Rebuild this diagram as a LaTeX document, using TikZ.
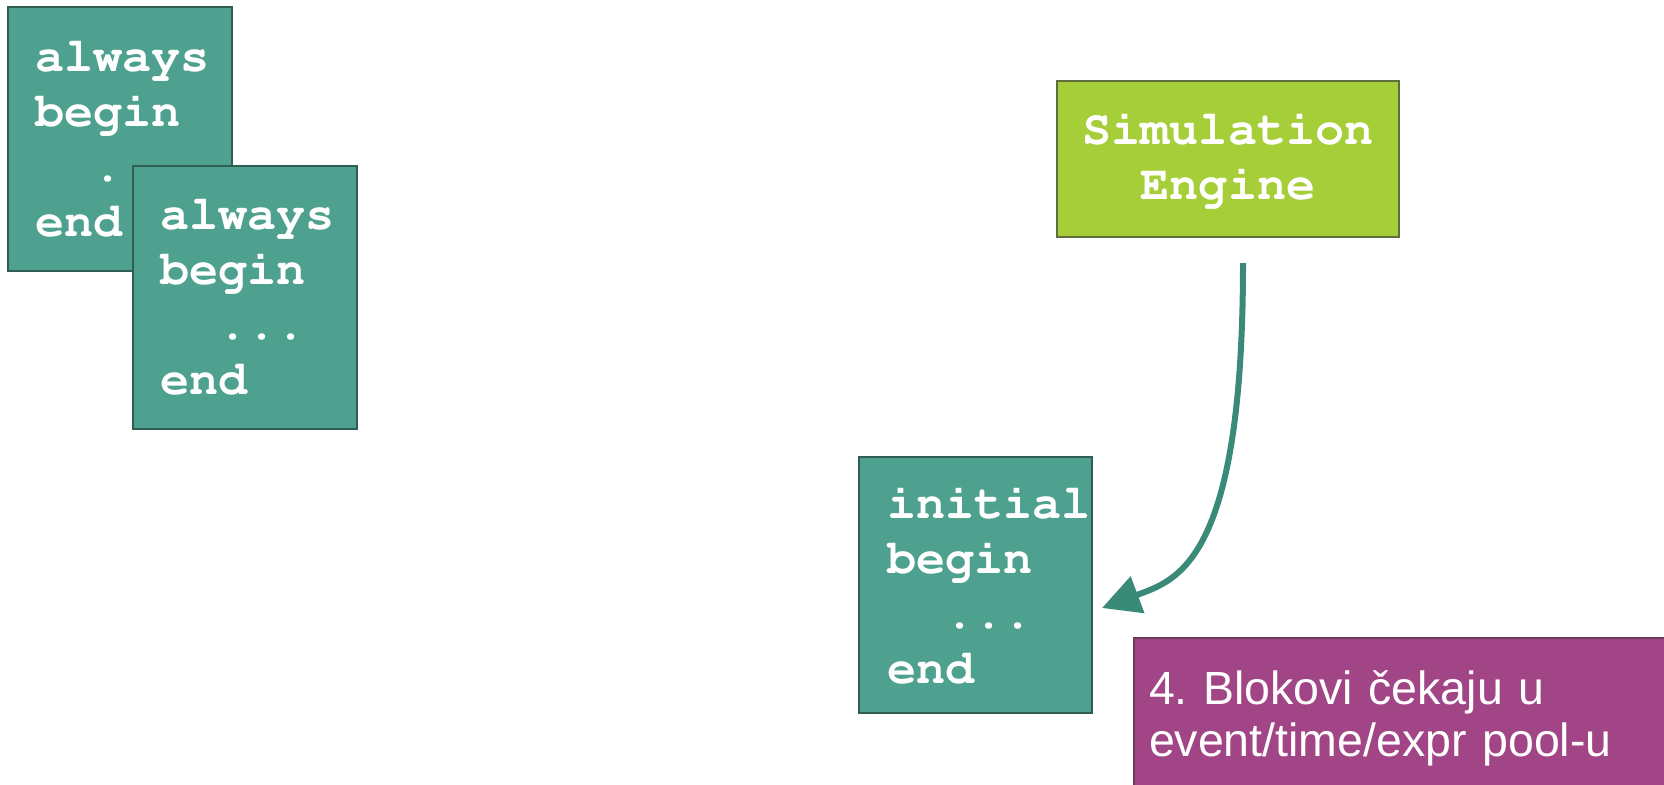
\documentclass[tikz,border=0pt]{standalone}
\usepackage[T1]{fontenc}
\usepackage{fontspec}
\setmainfont{Liberation Sans}
\setmonofont{Liberation Mono}
\usetikzlibrary{arrows.meta}
\newcommand\courbold{\fontencoding{T1}\fontfamily{pcr}\fontseries{b}\selectfont}
\definecolor{tealfill}{HTML}{4EA08F}
\definecolor{tealborder}{HTML}{2F5E55}
\definecolor{greenfill}{HTML}{A6CE39}
\definecolor{greenborder}{HTML}{5E6E3C}
\definecolor{purplefill}{HTML}{A24586}
\definecolor{purpleborder}{HTML}{6E3A5E}
\definecolor{arrowteal}{HTML}{3A8A78}
\begin{document}
\frenchspacing
\begin{tikzpicture}[x=1pt,y=-1pt,
  codefont/.style={font=\courbold\fontsize{48.5}{55}\selectfont},
  codebox/.style={codefont, draw=tealborder, line width=1.5pt, fill=tealfill, text=white,
    align=left, anchor=north west, inner ysep=0pt, outer sep=0pt},
  enginebox/.style={codefont, draw=greenborder, line width=1.5pt, fill=greenfill, text=white,
    align=center, inner sep=0pt, outer sep=0pt, minimum width=342pt, minimum height=156pt},
  notebox/.style={font=\fontsize{46.5}{52}\selectfont, draw=purpleborder, line width=1.5pt,
    fill=purplefill, text=white, align=left, anchor=north west, text width=600pt,
    inner xsep=15pt, inner ysep=33pt, outer sep=0pt},
  flowarrow/.style={draw=arrowteal, line width=6pt, -{Triangle[length=38pt,width=38pt]}}
]
\useasboundingbox (0,0) rectangle (1664,784);
\clip (0,0) rectangle (1664,784);
\fill[white] (0,0) rectangle (1664,784);

\node[codebox, text width=170pt, inner xsep=27pt, minimum height=264pt] (a1) at (8,7)
  {always\\begin\\\hphantom{aa}...\\end};
\node[codebox, text width=170pt, inner xsep=27pt, minimum height=263pt] (a2) at (133,166)
  {always\\begin\\\hphantom{aa}...\\end};

\node[enginebox] (eng) at (1228,159) {Simulation\\Engine};

\node[codebox, text width=177pt, inner xsep=28pt, minimum height=256pt] (init) at (859,457)
  {initial\\begin\\\hphantom{aa}...\\end};

\node[notebox] (note) at (1134,638) {4. Blokovi čekaju u\\event/time/expr pool-u};

\draw[flowarrow] ([xshift=15pt,yshift=-26pt]eng.south)
  .. controls +(0,300) and +(75,-28) .. ([xshift=10pt,yshift=-23pt]init.east);
\end{tikzpicture}
\end{document}
